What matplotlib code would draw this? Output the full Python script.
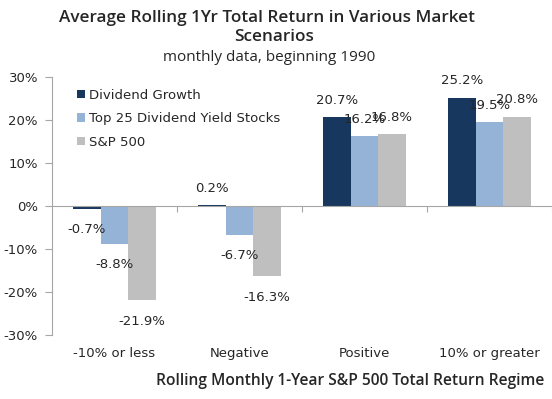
import matplotlib
matplotlib.use("Agg")
import matplotlib.pyplot as plt
import matplotlib.transforms as mtransforms
import numpy as np

categories = ["-10% or less", "Negative", "Positive", "10% or greater"]
series_names = ["Dividend Growth", "Top 25 Dividend Yield Stocks", "S&P 500"]
dividend_growth = [-0.7, 0.2, 20.7, 25.2]
top25_yield = [-8.8, -6.7, 16.2, 19.5]
sp500 = [-21.9, -16.3, 16.8, 20.8]
colors = ["#17375E", "#95B3D7", "#BFBFBF"]
yticks = [-30, -20, -10, 0, 10, 20, 30]

plt.rcParams['font.family'] = ['DejaVu Sans']
txt = "#262626"
fs = 9.5

fig = plt.figure(figsize=(5.52, 3.99), dpi=100)
ax = fig.add_axes([0.094, 0.16, 0.906, 0.647])

x = np.arange(len(categories))
w = 0.22
data = [dividend_growth, top25_yield, sp500]
for i, (vals, c, name) in enumerate(zip(data, colors, series_names)):
    xs = x + (i - 1) * w
    ax.bar(xs, vals, width=w, color=c, label=name, zorder=2)
    for xi, v in zip(xs, vals):
        off = 12 if v >= 0 else -15
        ax.annotate(f"{v:.1f}%", (xi, v), xytext=(0, off), textcoords="offset points",
                    ha="center", va="center", fontsize=fs, color=txt)

ax.set_xlim(-0.5, 3.5)
ax.set_ylim(-30, 30)
ax.set_yticks(yticks)
ax.set_yticklabels([f"{t}%" for t in yticks], fontsize=fs, color=txt)
ax.tick_params(axis="y", direction="out", length=5, color="#A6A6A6", pad=5)

for s in ["top", "right"]:
    ax.spines[s].set_visible(False)
ax.spines["left"].set_color("#A6A6A6")
ax.spines["bottom"].set_color("#A6A6A6")
ax.spines["bottom"].set_position(("data", 0))

ax.set_xticks([0.5, 1.5, 2.5, 3.5])
ax.set_xticklabels([])
ax.tick_params(axis="x", direction="out", length=4, color="#A6A6A6")

trans = mtransforms.blended_transform_factory(ax.transData, ax.transAxes)
for xi, cat in zip(x, categories):
    ax.text(xi, -0.07, cat, transform=trans, ha="center", va="center", fontsize=fs, color=txt)

fig.text(0.635, 0.045, "Rolling Monthly 1-Year S&P 500 Total Return Regime",
         ha="center", va="center", fontsize=11.2, fontweight="semibold",
         family="Open Sans", color=txt)

fig.text(0.484, 0.955, "Average Rolling 1Yr Total Return in Various Market",
         ha="center", va="center", fontsize=12.3, fontweight="semibold",
         family="Open Sans", color=txt)
fig.text(0.496, 0.907, "Scenarios", ha="center", va="center", fontsize=12.3,
         fontweight="semibold", family="Open Sans", color=txt)
fig.text(0.487, 0.855, "monthly data, beginning 1990", ha="center", va="center",
         fontsize=11, family="Open Sans", color=txt)

leg = ax.legend(loc="upper left", bbox_to_anchor=(0.04, 0.975), frameon=False,
                fontsize=fs, handlelength=0.6, handleheight=0.6, handletextpad=0.3,
                labelspacing=0.8, borderaxespad=0)
for t in leg.get_texts():
    t.set_color(txt)

fig.savefig("out.png", dpi=100)
